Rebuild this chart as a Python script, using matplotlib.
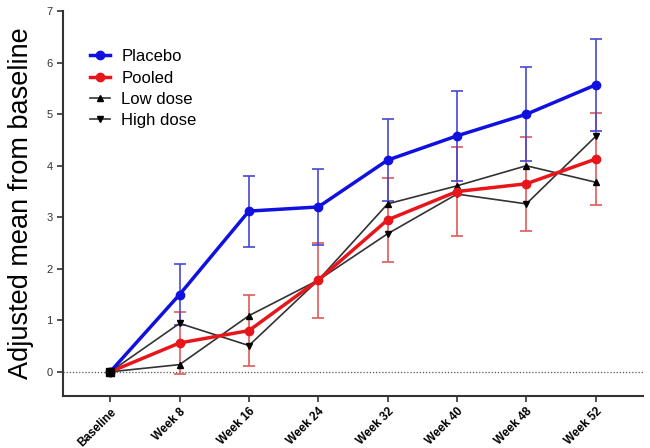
import matplotlib
matplotlib.use("Agg")
import matplotlib.pyplot as plt
import numpy as np

plt.rcParams['font.family'] = ['Liberation Sans', 'DejaVu Sans']

categories = ["Baseline", "Week 8", "Week 16", "Week 24", "Week 32", "Week 40", "Week 48", "Week 52"]
placebo = [0, 1.50, 3.12, 3.20, 4.11, 4.58, 5.00, 5.57]
placebo_err = [0, 0.60, 0.69, 0.73, 0.79, 0.87, 0.91, 0.89]
pooled = [0, 0.56, 0.80, 1.78, 2.95, 3.50, 3.65, 4.13]
pooled_err = [0, 0.60, 0.69, 0.73, 0.82, 0.86, 0.91, 0.90]
low_dose = [0, 0.14, 1.09, 1.78, 3.26, 3.61, 4.00, 3.68]
high_dose = [0, 0.94, 0.51, 1.78, 2.68, 3.45, 3.26, 4.57]
yticks = [0, 1, 2, 3, 4, 5, 6, 7]

x = np.arange(len(categories))

fig = plt.figure(figsize=(6.5, 4.48), dpi=100)
ax = fig.add_axes([0.097, 0.116, 0.892, 0.859])

ax.axhline(0, color="#555555", linestyle=(0, (1, 1.5)), linewidth=0.9, zorder=1)

ax.plot(x, low_dose, color="#333333", linewidth=1.2, marker="^", markersize=5,
        markerfacecolor="black", markeredgecolor="black", label="Low dose", zorder=3)
ax.plot(x, high_dose, color="#333333", linewidth=1.2, marker="v", markersize=5,
        markerfacecolor="black", markeredgecolor="black", label="High dose", zorder=3)

ax.errorbar(x[1:], pooled[1:], yerr=pooled_err[1:], fmt="none", ecolor="#e05a5a",
            elinewidth=1.2, capsize=4, capthick=1.2, zorder=2)
ax.plot(x, pooled, color="#e8161b", linewidth=2.5, marker="o", markersize=6,
        label="Pooled", zorder=4)

ax.errorbar(x[1:], placebo[1:], yerr=placebo_err[1:], fmt="none", ecolor="#4747d6",
            elinewidth=1.2, capsize=4, capthick=1.2, zorder=2)
ax.plot(x, placebo, color="#1010e0", linewidth=2.5, marker="o", markersize=6,
        label="Placebo", zorder=5)

# baseline common point
ax.plot([x[0]], [placebo[0]], marker="s", color="black", markersize=6, zorder=6, linestyle="none")

ax.set_xlim(-0.68, 7.68)
ax.set_ylim(-0.47, 7)
ax.set_yticks(yticks)
ax.set_yticklabels([str(v) for v in yticks], fontsize=8, color="#333333")
ax.set_xticks(x)
ax.set_xticklabels(categories, rotation=45, ha="right", rotation_mode="anchor",
                   fontsize=8.5, fontweight="bold")
ax.tick_params(axis="x", pad=3)
ax.set_ylabel("Adjusted mean from baseline", fontsize=19.5, labelpad=9)

for s in ["top", "right"]:
    ax.spines[s].set_visible(False)
for s in ["left", "bottom"]:
    ax.spines[s].set_linewidth(1.5)
    ax.spines[s].set_color("#333333")
ax.tick_params(axis="both", width=1.2, length=4, color="#333333")
ax.spines["left"].set_bounds(-0.47, 7)

handles, labels = ax.get_legend_handles_labels()
order = [labels.index(l) for l in ["Placebo", "Pooled", "Low dose", "High dose"]]
leg = ax.legend([handles[i] for i in order], [labels[i] for i in order],
                loc="upper left", bbox_to_anchor=(0.02, 0.94), frameon=False,
                fontsize=12, handlelength=1.2, handletextpad=0.7, labelspacing=0.38)

fig.savefig("out.png", dpi=100)
